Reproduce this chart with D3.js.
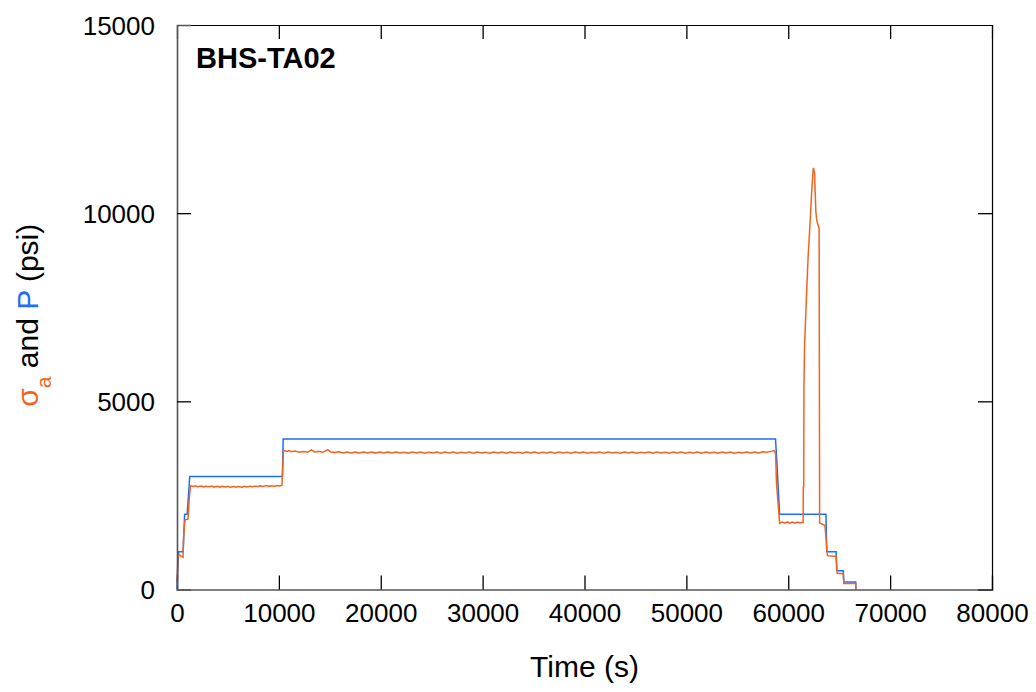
<!DOCTYPE html>
<html>
<head>
<meta charset="utf-8">
<script src="https://cdn.jsdelivr.net/npm/d3@7"></script>
<style>
  html, body { margin: 0; padding: 0; background: #fff; }
  svg { display: block; font-family: "Liberation Sans", Arial, sans-serif; }
</style>
</head>
<body>
<svg id="chart" width="1036" height="692"></svg>
<script>
// Test label and axis setup
const testName = "BHS-TA02";
const xTicks = [0, 10000, 20000, 30000, 40000, 50000, 60000, 70000, 80000];
const yTicks = [0, 5000, 10000, 15000];

// Confining pressure P (psi) vs time (s)
const pressureSeries = [
  [0, 0], [150, 1000], [600, 1000], [750, 2000], [1000, 2000], [1250, 3000],
  [10350, 3000], [10420, 4000], [58750, 4000], [58900, 3300], [59150, 2000],
  [63700, 2000], [63780, 1000], [64700, 1000], [64760, 500], [65400, 500],
  [65460, 200], [66620, 200], [66640, 0]
];

// Axial stress sigma_a (psi): loading ramp
const stressRamp = [
  [0, 200], [100, 850], [200, 920], [590, 860], [650, 1400], [790, 1850],
  [1080, 1870], [1200, 2400]
];
// first hold (P = 3000)
const stressHold1 = [
  [1320, 2760], [1600, 2740], [1800, 2755], [2000, 2730], [2400, 2750], [2600, 2725],
  [2800, 2745], [3200, 2730], [3400, 2750], [3600, 2725], [4000, 2740], [4200, 2720],
  [4400, 2740], [4800, 2725], [5000, 2740], [5200, 2715], [5600, 2735], [5800, 2720],
  [6000, 2735], [6400, 2720], [6600, 2740], [6800, 2725], [7200, 2745], [7400, 2730],
  [7600, 2745], [8000, 2735], [8200, 2755], [8400, 2740], [8800, 2760], [9000, 2740],
  [9200, 2755], [9600, 2745], [9800, 2765], [10000, 2750], [10300, 2765]
];
// second hold (P = 4000)
const stressHold2 = [
  [10450, 3700], [10800, 3670], [11000, 3690], [11200, 3660], [11600, 3680], [12000, 3650],
  [12400, 3665], [12800, 3645], [13200, 3710], [13500, 3655], [13900, 3670], [14300, 3645],
  [14800, 3710], [15100, 3655], [15500, 3640], [15900, 3660], [16300, 3630], [16700, 3655],
  [17100, 3625], [17500, 3650], [17900, 3630], [18300, 3655], [18700, 3625], [19100, 3650],
  [19500, 3630], [19900, 3655], [20300, 3625], [20700, 3650], [21100, 3630], [21500, 3655],
  [21900, 3625], [22300, 3645], [22700, 3620], [23100, 3650], [23500, 3625], [23900, 3655],
  [24300, 3620], [24700, 3645], [25100, 3625], [25500, 3650], [25900, 3620], [26300, 3650],
  [26700, 3625], [27100, 3655], [27500, 3620], [27900, 3645], [28300, 3625], [28700, 3650],
  [29100, 3620], [29500, 3655], [29900, 3625], [30300, 3645], [30700, 3620], [31100, 3650],
  [31500, 3625], [31900, 3655], [32300, 3620], [32700, 3650], [33100, 3625], [33500, 3645],
  [33900, 3620], [34300, 3655], [34700, 3625], [35100, 3650], [35500, 3620], [35900, 3645],
  [36300, 3625], [36700, 3655], [37100, 3620], [37500, 3650], [37900, 3625], [38300, 3645],
  [38700, 3620], [39100, 3655], [39500, 3625], [39900, 3650], [40300, 3620], [40700, 3645],
  [41100, 3625], [41500, 3655], [41900, 3620], [42300, 3650], [42700, 3625], [43100, 3645],
  [43500, 3620], [43900, 3655], [44300, 3625], [44700, 3650], [45100, 3620], [45500, 3645],
  [45900, 3625], [46300, 3655], [46700, 3620], [47100, 3650], [47500, 3625], [47900, 3645],
  [48300, 3620], [48700, 3655], [49100, 3625], [49500, 3650], [49900, 3620], [50300, 3645],
  [50700, 3625], [51100, 3655], [51500, 3620], [51900, 3650], [52300, 3625], [52700, 3645],
  [53100, 3620], [53500, 3655], [53900, 3625], [54300, 3650], [54700, 3620], [55100, 3645],
  [55500, 3625], [55900, 3655], [56300, 3625], [56700, 3650], [57100, 3630], [57500, 3660],
  [57900, 3645], [58300, 3670], [58600, 3690]
];
// pressure drop and third hold (P = 2000)
const stressHold3 = [
  [58750, 3620], [58850, 2800], [59000, 2300], [59150, 1760], [59400, 1790], [59650, 1760],
  [59900, 1795], [60150, 1765], [60400, 1790], [60650, 1760], [60900, 1795], [61150, 1770],
  [61400, 1785]
];
// axial loading to peak and release
const stressPeak = [
  [61460, 1780], [61480, 2730], [61520, 2730], [61540, 5390], [61600, 6450], [61800, 7870],
  [61950, 8840], [62120, 9640], [62290, 10530], [62440, 11150], [62480, 11200], [62580, 11060],
  [62710, 10050], [62800, 9800], [63030, 9600], [63080, 1770]
];
// unloading steps
const stressUnload = [
  [63100, 1770], [63600, 1700], [63850, 900], [64700, 880], [64800, 430], [65400, 420],
  [65450, 160], [66620, 160], [66640, 0]
];

const stressSeries = [].concat(stressRamp, stressHold1, stressHold2, stressHold3, stressPeak, stressUnload);

const colorP = "#1f6ef5";
const colorS = "#f06420";

const svg = d3.select("#chart");
const frame = { left: 177, right: 992, top: 25, bottom: 589.5 };

const x = d3.scaleLinear().domain([0, 80000]).range([frame.left, frame.right]);
const y = d3.scaleLinear().domain([0, 15000]).range([frame.bottom, frame.top]);

const line = d3.line().x(d => x(d[0])).y(d => y(d[1]));

// plot lines
svg.append("path").datum(pressureSeries)
  .attr("d", line).attr("fill", "none")
  .attr("stroke", colorP).attr("stroke-width", 1.5);
svg.append("path").datum(stressSeries)
  .attr("d", line).attr("fill", "none")
  .attr("stroke", colorS).attr("stroke-width", 1.5);

// frame with inward ticks on all sides
const tickLen = 14;
const fontSize = 26;

const bottomAxis = svg.append("g").attr("transform", `translate(0,${frame.bottom})`)
  .call(d3.axisBottom(x).tickValues(xTicks).tickSize(-tickLen).tickPadding(14).tickFormat(d3.format("d")));
const topAxis = svg.append("g").attr("transform", `translate(0,${frame.top})`)
  .call(d3.axisTop(x).tickValues(xTicks).tickSize(-tickLen).tickFormat(""));
const leftAxis = svg.append("g").attr("transform", `translate(${frame.left},0)`)
  .call(d3.axisLeft(y).tickValues(yTicks).tickSize(-tickLen).tickPadding(22).tickFormat(d3.format("d")));
const rightAxis = svg.append("g").attr("transform", `translate(${frame.right},0)`)
  .call(d3.axisRight(y).tickValues(yTicks).tickSize(-tickLen).tickFormat(""));

[bottomAxis, topAxis, leftAxis, rightAxis].forEach(g => {
  g.selectAll(".tick line").attr("stroke", "#000").attr("stroke-width", 1.3);
  g.selectAll("text").attr("font-size", fontSize).attr("fill", "#000")
    .attr("font-family", "'Liberation Sans', Arial, sans-serif");
});
bottomAxis.select(".domain").attr("stroke", "#555").attr("stroke-width", 1.6);
leftAxis.select(".domain").attr("stroke", "#555").attr("stroke-width", 1.6);
topAxis.select(".domain").attr("stroke", "#000").attr("stroke-width", 1.2);
rightAxis.select(".domain").attr("stroke", "#000").attr("stroke-width", 1.2);
// hide the end ticks that coincide with the frame corners
[bottomAxis, topAxis].forEach(g => g.selectAll(".tick line").filter(d => d === 0 || d === 80000).remove());
[leftAxis, rightAxis].forEach(g => g.selectAll(".tick line").filter(d => d === 0 || d === 15000).remove());
leftAxis.selectAll(".tick text").attr("dy", "0.36em");

// test name
svg.append("text")
  .attr("x", 196).attr("y", 68)
  .attr("font-size", 29).attr("font-weight", "bold")
  .text(testName);

// axis titles
svg.append("text")
  .attr("x", (frame.left + frame.right) / 2).attr("y", 677)
  .attr("text-anchor", "middle").attr("font-size", 30)
  .text("Time (s)");

const yTitle = svg.append("text")
  .attr("transform", `translate(38,${(frame.top + frame.bottom) / 2 + 8}) rotate(-90)`)
  .attr("text-anchor", "middle").attr("font-size", 30);
yTitle.append("tspan").attr("fill", colorS).text("σ");
yTitle.append("tspan").attr("fill", colorS).attr("font-size", 21).attr("dy", 13).text("a");
yTitle.append("tspan").attr("dy", -13).text(" and ");
yTitle.append("tspan").attr("fill", colorP).text("P");
yTitle.append("tspan").text(" (psi)");
</script>
</body>
</html>
